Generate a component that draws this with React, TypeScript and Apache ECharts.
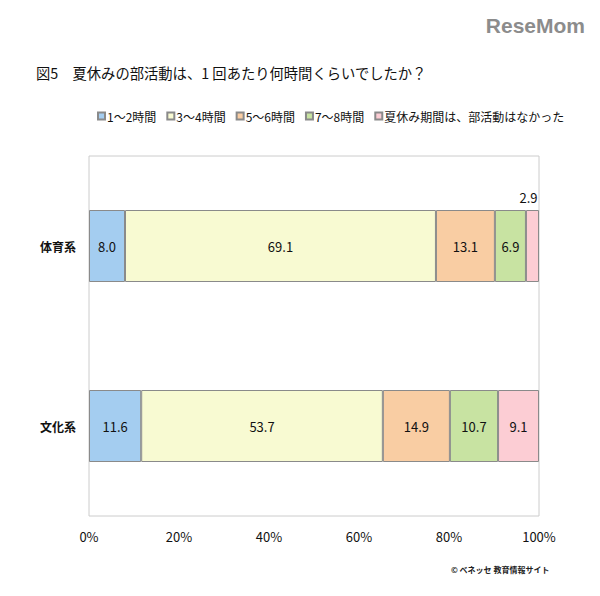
import React, { useEffect, useRef } from "react";
import * as echarts from "echarts";

const categories = ["体育系", "文化系"];
const seriesNames = ["1～2時間", "3～4時間", "5～6時間", "7～8時間", "夏休み期間は、部活動はなかった"];
const values1to2 = [8.0, 11.6];
const values3to4 = [69.1, 53.7];
const values5to6 = [13.1, 14.9];
const values7to8 = [6.9, 10.7];
const valuesNone = [2.9, 9.1];
const tickLabels = ["0%", "20%", "40%", "60%", "80%", "100%"];

const colors = ["#a4cdf0", "#f8fad2", "#f9cda3", "#c8e3a2", "#fccdd4"];
const FONT = "'Noto Sans CJK JP', 'Noto Sans', sans-serif";

export default function App() {
  const ref = useRef<HTMLDivElement>(null);
  useEffect(() => {
    if (!ref.current) return;
    const chart = echarts.init(ref.current, null, { renderer: "svg" });
    const allValues = [values1to2, values3to4, values5to6, values7to8, valuesNone];
    const series = allValues.map((vals, si) => ({
      name: seriesNames[si],
      type: "bar",
      stack: "total",
      barWidth: 72,
      itemStyle: { color: colors[si], borderColor: "#8a8a8a", borderWidth: 1 },
      label: {
        show: true,
        position: "inside",
        color: "#111",
        fontSize: 13,
        fontFamily: FONT,
        formatter: (p: any) => p.value.toFixed(1),
      },
      data: vals.map((v, i) =>
        si === 4 && i === 0
          ? { value: v, label: { position: "top", distance: 6, offset: [-4, 0] } }
          : v
      ),
    }));
    chart.setOption({
      animation: false,
      textStyle: { fontFamily: FONT },
      title: {
        text: "図5　夏休みの部活動は、1 回あたり何時間くらいでしたか？",
        left: 31,
        top: 60,
        textStyle: { fontSize: 14.3, fontWeight: "normal", color: "#111", fontFamily: FONT },
      },
      legend: {
        data: seriesNames,
        left: 92,
        top: 105,
        icon: "rect",
        itemWidth: 7,
        itemHeight: 7,
        itemGap: 10,
        textStyle: { fontSize: 12, color: "#111", fontFamily: FONT, padding: [0, 0, 0, -3] },
      },
      grid: {
        left: 89,
        right: 61,
        top: 156,
        bottom: 80,
        show: true,
        borderColor: "#cccccc",
        borderWidth: 1,
      },
      xAxis: {
        type: "value",
        min: 0,
        max: 100,
        interval: 20,
        axisLine: { show: false },
        axisTick: { show: false },
        splitLine: { show: false },
        axisLabel: {
          fontSize: 13,
          color: "#111",
          margin: 14,
          fontFamily: FONT,
          formatter: (v: number) => tickLabels[Math.round(v / 20)],
        },
      },
      yAxis: {
        type: "category",
        inverse: true,
        data: categories,
        axisLine: { show: false },
        axisTick: { show: false },
        axisLabel: { fontSize: 12, color: "#111", fontWeight: "bold", margin: 13, fontFamily: FONT },
      },
      graphic: [
        {
          type: "text",
          right: 15,
          top: 15,
          style: {
            text: "ReseMom",
            fontSize: 21,
            fontWeight: "bold",
            fill: "#8c8c8c",
            fontFamily: "'Liberation Sans', 'Roboto', sans-serif",
          },
        },
        {
          type: "text",
          left: 451,
          top: 565,
          style: {
            text: "© ベネッセ 教育情報サイト",
            fontSize: 8,
            fontWeight: "bold",
            fill: "#222",
            fontFamily: FONT,
          },
        },
      ],
      series,
    });
    return () => chart.dispose();
  }, []);
  return <div ref={ref} style={{ width: 600, height: 596, margin: -8 }} />;
}
